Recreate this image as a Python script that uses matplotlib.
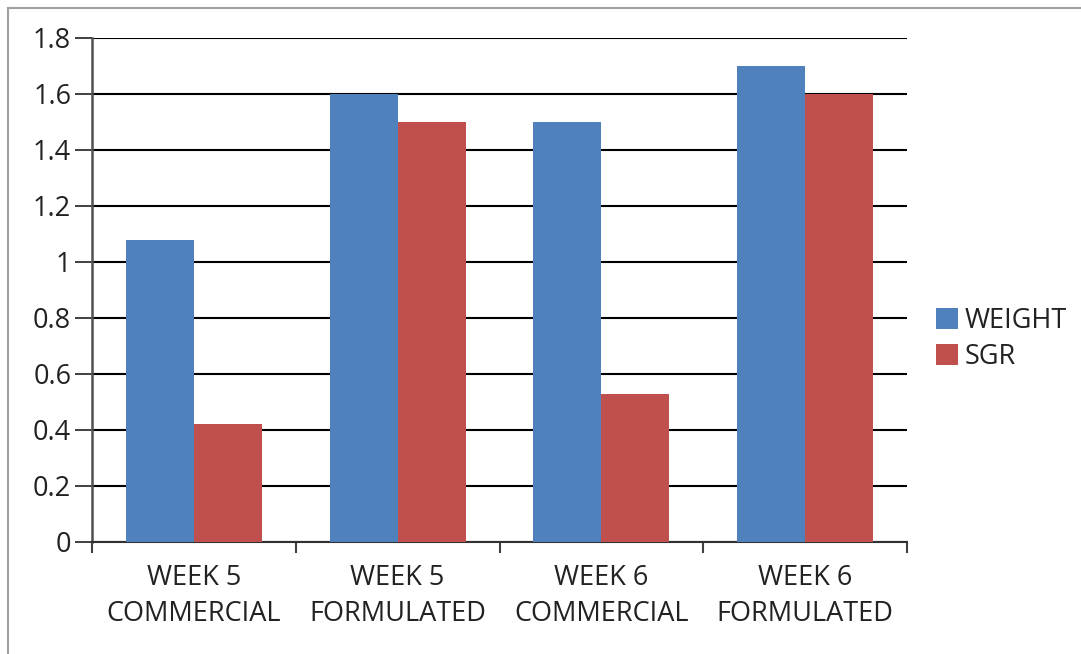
import matplotlib
matplotlib.use("Agg")
import matplotlib.pyplot as plt
import numpy as np
from matplotlib.lines import Line2D

categories = ["WEEK 5\nCOMMERCIAL", "WEEK 5\nFORMULATED", "WEEK 6\nCOMMERCIAL", "WEEK 6\nFORMULATED"]
weight = [1.08, 1.6, 1.5, 1.7]
sgr = [0.42, 1.5, 0.53, 1.6]
series_names = ["WEIGHT", "SGR"]
yticks = [0, 0.2, 0.4, 0.6, 0.8, 1, 1.2, 1.4, 1.6, 1.8]
ytick_labels = ["0", "0.2", "0.4", "0.6", "0.8", "1", "1.2", "1.4", "1.6", "1.8"]

plt.rcParams['font.family'] = ['Open Sans', 'DejaVu Sans']

W, H = 1081, 654
fig = plt.figure(figsize=(W/100, H/100), dpi=100)
ax = fig.add_axes([92/W, 1-542/H, (907-92)/W, (542-38)/H])

x = np.arange(len(categories))
bw = 1/3
ax.bar(x - bw/2, weight, bw, color="#4F81BD", label=series_names[0], zorder=3)
ax.bar(x + bw/2, sgr, bw, color="#C0504D", label=series_names[1], zorder=3)

ax.set_xlim(-0.5, len(categories) - 0.5)
ax.set_ylim(0, 1.8)
ax.set_yticks(yticks)
ax.set_yticklabels(ytick_labels)
ax.yaxis.grid(True, color="black", linewidth=1.5, zorder=1)
ax.set_axisbelow(True)

ax.set_xticks(np.arange(-0.5, len(categories), 1))
ax.set_xticklabels([])
ax.set_xticks(x, minor=True)
ax.set_xticklabels(categories, minor=True, fontsize=19.5, color="#222222", linespacing=1.36)
ax.tick_params(axis='x', which='major', length=8, width=1.5, color="#404040", direction='out')
ax.tick_params(axis='x', which='minor', length=0, pad=16)
ax.tick_params(axis='y', length=12, width=1.4, color="#404040", labelsize=19.5, labelcolor="#222222", pad=3)

for s in ["top", "right"]:
    ax.spines[s].set_visible(False)
ax.spines["left"].set_color("#505050")
ax.spines["left"].set_linewidth(1.8)
ax.spines["bottom"].set_color("#303030")
ax.spines["bottom"].set_linewidth(1.5)

leg = fig.legend(loc="upper left", bbox_to_anchor=(925/W, 1-296/H), frameon=False,
                 fontsize=19.5, handlelength=0.8, handleheight=0.8, handletextpad=0.25,
                 labelspacing=0.3, borderaxespad=0)
for t in leg.get_texts():
    t.set_color("#222222")

# outer chart frame
fig.add_artist(Line2D([8/W, 8/W], [0, 1-8/H], transform=fig.transFigure, color="#A0A0A0", linewidth=1.5))
fig.add_artist(Line2D([8/W, 1], [1-8/H, 1-8/H], transform=fig.transFigure, color="#A0A0A0", linewidth=1.5))

fig.savefig("out.png", dpi=100, facecolor="white")
